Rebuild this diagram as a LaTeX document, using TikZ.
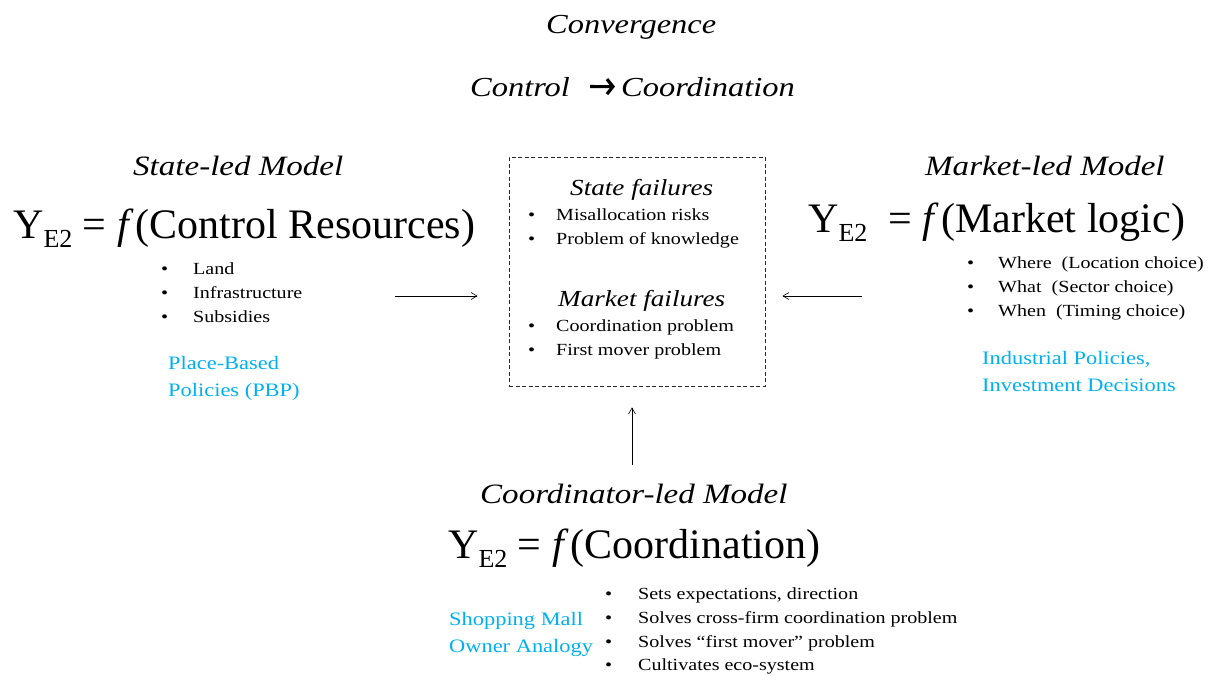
\documentclass[tikz,border=0pt]{standalone}
\usepackage{fontspec}
\setmainfont[FakeStretch=1.18]{Liberation Serif}
\newfontfamily\eqfont{Liberation Serif}
\usetikzlibrary{arrows.meta}
\definecolor{policyblue}{RGB}{0,176,240}
\definecolor{boxgray}{RGB}{40,40,40}
\newcommand{\fsz}[1]{\fontsize{#1}{#1}\selectfont}
% output variable with its subscript
\newcommand{\yetwo}{Y\raisebox{-0.22em}{\fsz{26}E2}}
\newcommand{\bul}[1]{\makebox[#1][l]{•}}
\begin{document}
\begin{tikzpicture}[x=1pt,y=-1pt,
  txt/.style={inner sep=0pt, anchor=base west},
  ttl/.style={txt, font=\fsz{27.5}\itshape},
  head/.style={txt, font=\fsz{28}\itshape},
  formula/.style={txt, font=\eqfont\fsz{42}},
  item/.style={txt, font=\fsz{17}},
  subhead/.style={txt, font=\fsz{23}\itshape},
  policy/.style={txt, font=\fsz{19}, text=policyblue},
  flow/.style={-{Straight Barb[length=6pt,width=7pt]}, line width=0.6pt},
  bigarrow/.style={-{Straight Barb[length=6pt,width=15pt]}, line width=3.2pt}
]
\useasboundingbox (0,0) rectangle (1208,675);

% titles
\node[ttl] (conv) at (546,33) {Convergence};
\node[ttl] (ctrl) at (470,96) {Control};
\node[ttl] (coord) at (621,96) {Coordination};
\draw[bigarrow, shorten <=20pt, shorten >=6pt] (ctrl.east) -- (coord.west);

% state-led model
\node[head] (statehead) at (133,175) {State-led Model};
\node[formula] (stateeq) at (13,238) {\yetwo\ = {\itshape f\,}(Control Resources)};
\node[item] (s1) at (161,274) {\bul{32pt}Land};
\node[item] (s2) at (161,298) {\bul{32pt}Infrastructure};
\node[item] (s3) at (161,322) {\bul{32pt}Subsidies};
\node[policy] (pbp1) at (168,369) {Place-Based};
\node[policy] (pbp2) at (168,396) {Policies (PBP)};

% failures box
\node[draw=boxgray, dashed, dash pattern=on 4pt off 2.5pt, line width=0.8pt,
      minimum width=256pt, minimum height=229pt, inner sep=0pt] (fail) at (637,271.5) {};
\node[subhead] (sfail) at (570,195) {State failures};
\node[item] (f1) at (528,220) {\bul{28pt}Misallocation risks};
\node[item] (f2) at (528,244) {\bul{28pt}Problem of knowledge};
\node[subhead] (mfail) at (558,306) {Market failures};
\node[item] (f3) at (528,331) {\bul{28pt}Coordination problem};
\node[item] (f4) at (528,355) {\bul{28pt}First mover problem};

% market-led model
\node[head] (markethead) at (925,175) {Market-led Model};
\node[formula] (marketeq) at (808,232) {\yetwo\ \ = {\itshape f\,}(Market logic)};
\node[item] (m1) at (967,268) {\bul{31pt}Where\ \ (Location choice)};
\node[item] (m2) at (967,292) {\bul{31pt}What\ \ (Sector choice)};
\node[item] (m3) at (967,316) {\bul{31pt}When\ \ (Timing choice)};
\node[policy] (ip1) at (982,364) {Industrial Policies,};
\node[policy] (ip2) at (982,391) {Investment Decisions};

% coordinator-led model
\node[head] (coordhead) at (480,503) {Coordinator-led Model};
\node[formula] (coordeq) at (448,558) {\yetwo\ = {\itshape f\,}(Coordination)};
\node[item] (c1) at (605,599) {\bul{33pt}Sets expectations, direction};
\node[item] (c2) at (605,623) {\bul{33pt}Solves cross-firm coordination problem};
\node[item] (c3) at (605,647) {\bul{33pt}Solves “first mover” problem};
\node[item] (c4) at (605,670) {\bul{33pt}Cultivates eco-system};
\node[policy] (mall1) at (449,625) {Shopping Mall};
\node[policy] (mall2) at (449,652) {Owner Analogy};

% arrows towards the failures box
\coordinate (lfrom) at (395,296);
\coordinate (rfrom) at (862,296);
\coordinate (bfrom) at (632,465);
\draw[flow, shorten >=31pt] (lfrom) -- (fail.west |- lfrom);
\draw[flow, shorten >=17pt] (rfrom) -- (fail.east |- rfrom);
\draw[flow, shorten >=21pt] (bfrom) -- (fail.south -| bfrom);
\end{tikzpicture}
\end{document}
